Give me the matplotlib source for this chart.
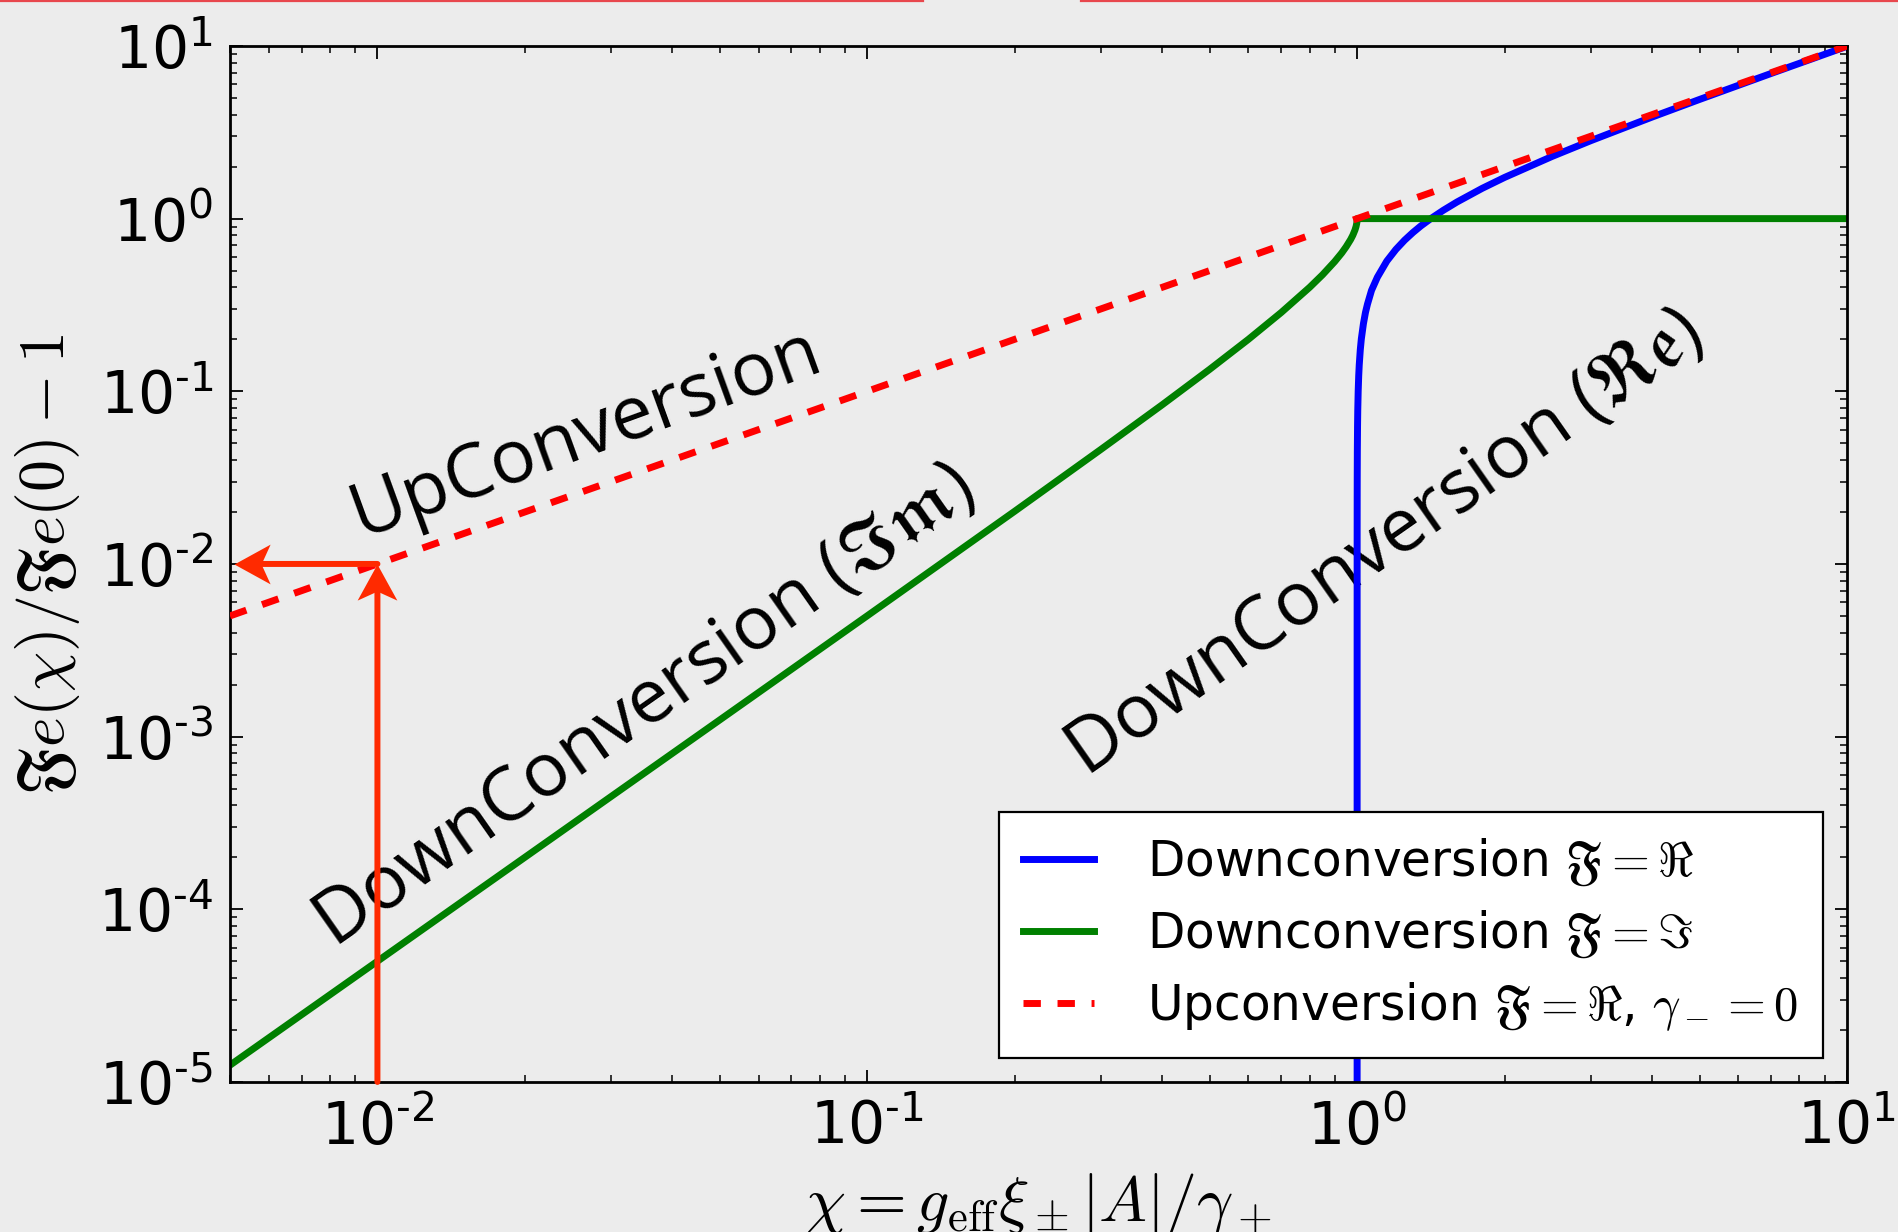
import matplotlib
matplotlib.use('Agg')
import matplotlib.pyplot as plt
from matplotlib.lines import Line2D
from matplotlib.path import Path
from matplotlib.ticker import FuncFormatter
import numpy as np

plt.rcParams['mathtext.fontset'] = 'cm'
plt.rcParams['axes.unicode_minus'] = False
plt.rcParams['font.family'] = 'DejaVu Sans'

# valores
chi_re = [1.00000000001, 1.000000001, 1.0000001, 1.00001, 1.0001, 1.0003,
          1.0005, 1.001, 1.002, 1.003, 1.005, 1.0075, 1.01, 1.015, 1.02, 1.03,
          1.04, 1.05, 1.07, 1.1, 1.15, 1.2, 1.25, 1.3, 1.35, 1.414, 1.5, 1.6,
          1.8, 2.0, 2.5, 3.0, 4.0, 5.0, 7.0, 10.0]
re_down = [4.47e-6, 4.47e-5, 4.47e-4, 4.47e-3, 0.0141, 0.0245,
           0.0316, 0.0447, 0.0633, 0.0775, 0.100, 0.123, 0.142, 0.174, 0.201,
           0.246, 0.286, 0.320, 0.384, 0.458, 0.568, 0.663, 0.750, 0.831, 0.908,
           1.0, 1.118, 1.249, 1.497, 1.732, 2.291, 2.828, 3.873, 4.899, 6.928,
           9.950]

chi_im = [0.005, 0.01, 0.02, 0.05, 0.1, 0.2, 0.3, 0.4, 0.5, 0.6, 0.7, 0.8,
          0.85, 0.9, 0.93, 0.95, 0.97, 0.98, 0.99, 0.995, 0.998, 0.999, 0.9999,
          1.0, 10.0]
im_down = [1.25e-5, 5.0e-5, 2.0e-4, 1.25e-3, 5.01e-3, 0.0202, 0.0461, 0.0835,
           0.134, 0.200, 0.286, 0.400, 0.473, 0.564, 0.632, 0.688, 0.757,
           0.801, 0.859, 0.900, 0.937, 0.955, 0.986, 1.0, 1.0]

chi_up = [0.005, 0.01, 0.1, 1.0, 10.0]
up_conv = [0.005, 0.01, 0.1, 1.0, 10.0]

labels = [r'Downconversion $\mathfrak{F}=\Re$',
          r'Downconversion $\mathfrak{F}=\Im$',
          r'Upconversion $\mathfrak{F}=\Re$, $\gamma_-=0$']

# ponto marcado pelas setas
mark_x = 0.01
mark_y = 0.01

bg = '#ececec'
fig = plt.figure(figsize=(18.99, 12.32), dpi=100, facecolor=bg)
ax = fig.add_axes([0.1211, 0.1218, 0.8515, 0.8409], facecolor=bg)

ax.plot(chi_re, re_down, color='blue', lw=5, label=labels[0], zorder=2)
ax.plot(chi_im, im_down, color='green', lw=5, label=labels[1], zorder=2,
        solid_joinstyle='round')
ax.plot(chi_up, up_conv, color='red', lw=5, ls='--', dashes=(2.5, 2.4),
        label=labels[2], zorder=3)

ax.set_xscale('log')
ax.set_yscale('log')
ax.set_xlim(5e-3, 10)
ax.set_ylim(1e-5, 10)


# rótulos 10^n com hífen curto, como no original
def dec_fmt(v, pos):
    e = int(round(np.log10(v)))
    s = str(e).replace('-', '\u2010')
    return r'$\mathdefault{10^{%s}}$' % s


ax.xaxis.set_major_formatter(FuncFormatter(dec_fmt))
ax.yaxis.set_major_formatter(FuncFormatter(dec_fmt))

# setas com ponta entalhada
arrow_c = '#ff2a00'
head_up = Path([(0, 0), (-0.55, -1), (0, -0.75), (0.55, -1), (0, 0)],
               [Path.MOVETO, Path.LINETO, Path.LINETO, Path.LINETO, Path.CLOSEPOLY])
head_left = Path([(0, 0), (1, 0.55), (0.75, 0), (1, -0.55), (0, 0)],
                 [Path.MOVETO, Path.LINETO, Path.LINETO, Path.LINETO, Path.CLOSEPOLY])
shaft = dict(arrowstyle='-', lw=4.3, color=arrow_c, shrinkA=0, shrinkB=16)
ax.annotate('', xy=(mark_x, mark_y), xytext=(mark_x, 1e-5), arrowprops=shaft,
            zorder=4)
ax.annotate('', xy=(5.0e-3, mark_y), xytext=(mark_x, mark_y), arrowprops=shaft,
            zorder=4)
ax.plot([mark_x], [mark_y], marker=head_up, ms=52, color=arrow_c, mew=0,
        ls='none', zorder=4)
ax.plot([5.1e-3], [mark_y], marker=head_left, ms=52, color=arrow_c, mew=0,
        ls='none', zorder=4, clip_on=False)

# textos inclinados
tfont = dict(family='Open Sans', fontsize=54, ha='center', va='baseline',
             rotation_mode='anchor', zorder=1)
ax.text(0.0275, 0.0442, 'UpConversion', rotation=20, **tfont)
ax.text(0.0371, 1.19e-3, r'DownConversion ($\mathfrak{Im}$)', rotation=35, **tfont)
ax.text(1.203, 0.0105, r'DownConversion ($\mathfrak{Re}$)', rotation=35, **tfont)

ax.set_xlabel(r'$\chi = g_{\rm eff}\xi_\pm|A|/\gamma_+$', fontsize=46, labelpad=10)
ax.set_ylabel(r'$\mathfrak{F}e(\chi)/\mathfrak{F}e(0)-1$', fontsize=46)
ax.yaxis.set_label_coords(-0.0915, 0.5)

ax.tick_params(which='both', direction='in', top=True, right=True,
               labelsize=42, pad=12)
ax.tick_params(which='major', length=9, width=1.3)
ax.tick_params(which='minor', length=4.8, width=1.1)
for sp in ax.spines.values():
    sp.set_linewidth(2)

leg = ax.legend(loc='lower right', fontsize=35, fancybox=False, framealpha=1,
                edgecolor='black', handlelength=1.45, handletextpad=1.1,
                labelspacing=0.42, borderpad=0.5, borderaxespad=0.5)
leg.get_frame().set_linewidth(1.6)

# linhas vermelhas no topo da imagem
fig.add_artist(Line2D([0, 0.486], [0.9994, 0.9994], color='#e8474d', lw=1.6,
                      transform=fig.transFigure))
fig.add_artist(Line2D([0.569, 1], [0.9994, 0.9994], color='#e8474d', lw=1.6,
                      transform=fig.transFigure))

fig.savefig('out.png', dpi=100, facecolor=bg)
